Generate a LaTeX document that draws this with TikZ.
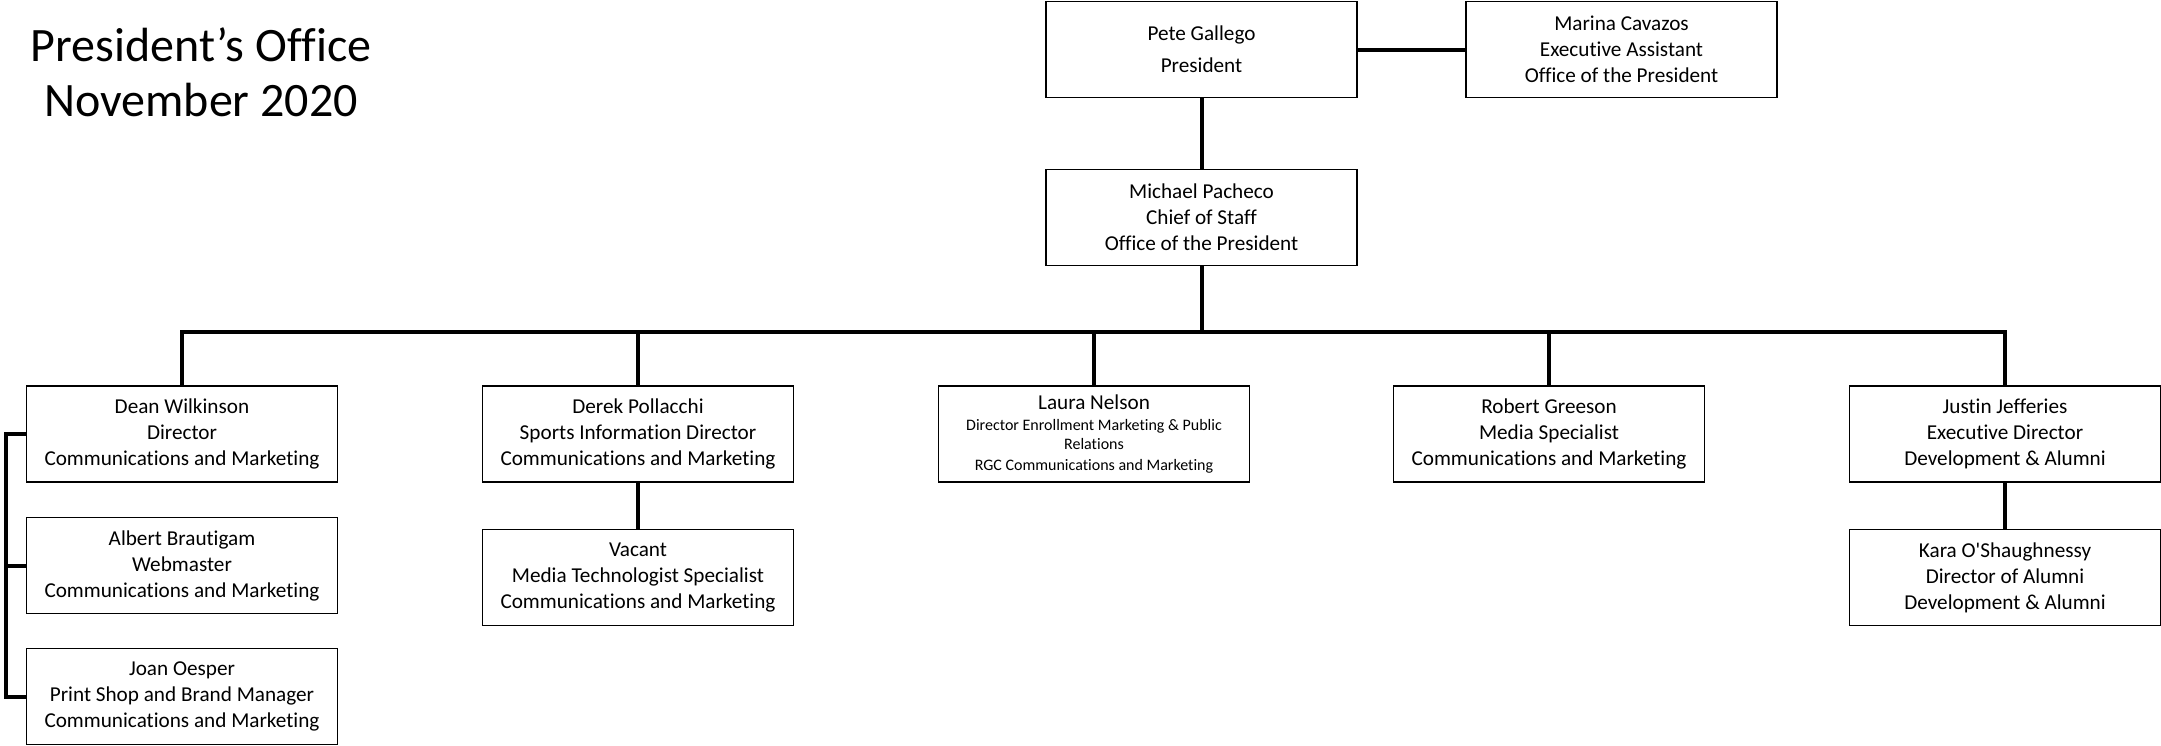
\documentclass[tikz,border=0pt]{standalone}
\usepackage{fontspec}
\setmainfont{Carlito}[Ligatures=CommonOff]
\usetikzlibrary{positioning}

\tikzset{
  box/.style={draw, line width=0.9pt, minimum width=155.5pt, minimum height=48pt,
    inner sep=0pt, align=center, font=\fontsize{10.6}{13}\selectfont},
  link/.style={line width=2pt},
}
\newcommand{\smalltxt}{\fontsize{8}{10}\selectfont}

\begin{document}
\begin{tikzpicture}[x=0.5pt, y=-0.5pt]
  \useasboundingbox (0,0) rectangle (2161,745);
  % Title
  \node[align=center, font=\fontsize{24}{27.5}\selectfont] (title) at (201,72)
    {President’s Office\\November 2020};
  % Top level
  \node[box] (pete) at (1201.5,49.5) {Pete Gallego\\[3pt]President};
  \node[box] (marina) at (1621.5,49.5) {Marina Cavazos\\Executive Assistant\\Office of the President};
  \node[box] (michael) at (1201.5,217.5) {Michael Pacheco\\Chief of Staff\\Office of the President};
  % Second level
  \node[box] (dean) at (182,434) {Dean Wilkinson\\Director\\Communications and Marketing};
  \node[box] (derek) at (638,434) {Derek Pollacchi\\Sports Information Director\\Communications and Marketing};
  \node[box] (laura) at (1094,434) {Laura Nelson\\[-2.4pt]
    {\smalltxt Director Enrollment Marketing \& Public}\\[-3.9pt]
    {\smalltxt Relations}\\[-2.5pt]
    {\smalltxt RGC Communications and Marketing}};
  \node[box] (robert) at (1549,434) {Robert Greeson\\Media Specialist\\Communications and Marketing};
  \node[box] (justin) at (2005,434) {Justin Jefferies\\Executive Director\\Development \& Alumni};
  % Third level
  \node[box] (albert) at (182,565.5) {Albert Brautigam\\Webmaster\\Communications and Marketing};
  \node[box] (joan) at (182,696.5) {Joan Oesper\\Print Shop and Brand Manager\\Communications and Marketing};
  \node[box] (vacant) at (638,577.5) {Vacant\\Media Technologist Specialist\\Communications and Marketing};
  \node[box] (kara) at (2005,577.5) {Kara O\textquotesingle Shaughnessy\\Director of Alumni\\Development \& Alumni};
  % Connectors
  \draw[link] (pete) -- (marina);
  \draw[link] (pete) -- (michael);
  \draw[link] (michael.south) -- (michael.south |- 0,332) coordinate (bus);
  \draw[link] (dean.north) -- (dean.north |- bus) -- (justin.north |- bus) -- (justin.north);
  \foreach \n in {derek,laura,robert} {
    \draw[link] (\n.north) -- (\n.north |- bus);
  }
  \draw[link] (derek) -- (vacant);
  \draw[link] (justin) -- (kara);
  \draw[link] (dean.west) -- ++(-20,0) coordinate (lb) |- (joan.west);
  \draw[link] (albert.west) -- (albert.west -| lb);
\end{tikzpicture}
\end{document}
